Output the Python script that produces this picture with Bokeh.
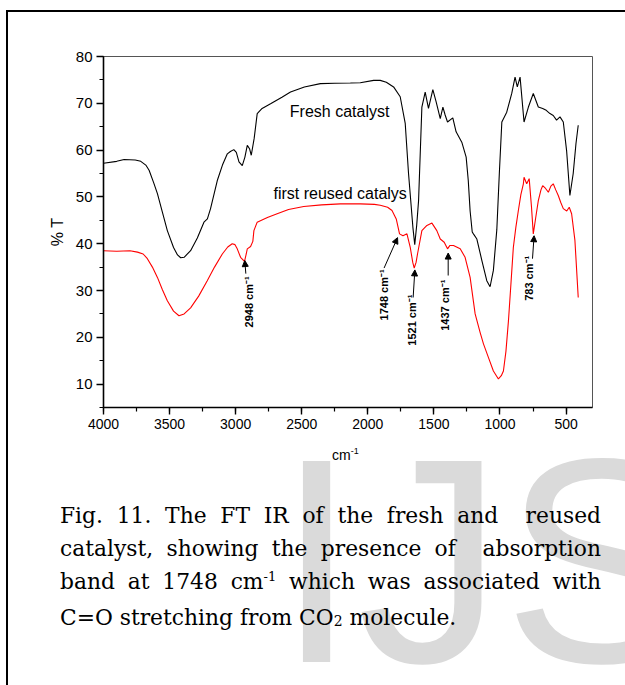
import math
from bokeh.plotting import figure
from bokeh.layouts import column
from bokeh.models import (Range1d, SingleIntervalTicker, Label, Arrow, NormalHead,
                          InlineStyleSheet, Div)
from bokeh.embed import file_html
from bokeh.resources import INLINE

# ---------------- data ----------------
fresh_wn = [4000, 3900, 3844, 3760, 3718, 3680, 3655, 3620, 3592, 3555, 3517, 3470, 3440, 3416,
            3390, 3341, 3290, 3240, 3214, 3190, 3139, 3100, 3063, 3040, 3014, 2995, 2975, 2950,
            2930, 2912, 2895, 2882, 2860, 2837, 2800, 2736, 2650, 2585, 2480, 2359, 2250, 2132,
            2057, 1956, 1906, 1860, 1805, 1755, 1717, 1692, 1659, 1645, 1630, 1616, 1591, 1566,
            1541, 1508, 1483, 1452, 1432, 1415, 1397, 1357, 1332, 1289, 1256, 1240, 1226, 1210,
            1201, 1175, 1137, 1100, 1075, 1050, 1024, 1005, 986, 949, 911, 886, 869, 848, 818,
            785, 748, 710, 677, 650, 622, 597, 572, 546, 521, 496, 471, 446, 425, 408]
fresh_t = [57.2, 57.6, 58.0, 57.9, 57.6, 56.8, 55.7, 53.0, 50.7, 46.8, 42.8, 39.2, 37.6, 37.0,
           37.1, 38.5, 41.2, 44.6, 45.3, 47.5, 53.5, 56.8, 59.2, 59.7, 60.1, 59.5, 57.5, 56.7,
           58.5, 61.0, 60.3, 58.9, 62.5, 67.8, 68.9, 69.9, 71.3, 72.4, 73.5, 74.2, 74.3, 74.35,
           74.4, 74.9, 74.9, 74.5, 73.5, 71.4, 65.7, 55.0, 43.5, 39.8, 44.0, 49.2, 69.2, 72.4,
           68.9, 72.9, 70.3, 66.7, 69.2, 67.5, 66.0, 66.9, 63.9, 61.7, 58.5, 53.5, 47.0, 42.5,
           42.1, 41.0, 36.4, 32.1, 30.8, 34.3, 43.0, 55.0, 66.0, 68.1, 72.1, 75.6, 73.5, 75.6, 66.0,
           69.2, 72.1, 69.2, 68.9, 68.5, 67.8, 67.4, 66.4, 67.1, 66.0, 59.9, 50.3, 55.0, 61.4, 65.3]

reused_wn = [4000, 3900, 3800, 3743, 3700, 3668, 3630, 3592, 3555, 3517, 3470, 3429, 3390, 3341,
             3280, 3215, 3160, 3101, 3060, 3026, 3005, 2988, 2963, 2933, 2920, 2912, 2887, 2870,
             2862, 2837, 2760, 2686, 2600, 2485, 2350, 2208, 2057, 1950, 1906, 1850, 1817, 1785,
             1760, 1734, 1704, 1679, 1660, 1649, 1635, 1624, 1591, 1553, 1515, 1478, 1452, 1422,
             1397, 1380, 1352, 1301, 1264, 1226, 1188, 1150, 1125, 1085, 1050, 1012, 990, 974,
             955, 936, 917, 899, 880, 861, 842, 823, 818, 798, 779, 762, 748, 730, 710, 690, 677,
             655, 634, 615, 597, 578, 559, 540, 521, 495, 476, 458, 433, 408]
reused_t = [38.5, 38.4, 38.5, 38.2, 37.8, 36.8, 35.0, 32.8, 30.2, 27.8, 25.6, 24.6, 25.0, 26.3,
            28.8, 32.1, 35.0, 37.8, 39.3, 40.0, 39.8, 38.9, 37.1, 36.2, 37.8, 38.9, 39.4, 40.5,
            42.8, 44.6, 45.6, 46.4, 47.3, 47.95, 48.3, 48.5, 48.5, 48.4, 48.2, 47.8, 47.1, 45.3,
            42.1, 41.7, 42.1, 39.2, 36.0, 34.8, 36.0, 37.8, 42.8, 43.9, 44.4, 42.8, 41.0, 40.3,
            38.9, 39.6, 39.6, 38.9, 37.1, 32.8, 25.0, 21.0, 18.6, 15.5, 12.8, 11.1, 11.8, 12.8,
            17.0, 23.5, 31.5, 39.2, 43.5, 47.1, 50.5, 52.8, 54.2, 52.8, 53.9, 48.0, 42.1, 45.5,
            49.2, 51.5, 52.4, 51.8, 51.0, 52.3, 52.8, 51.5, 50.3, 48.8, 47.5, 47.0, 47.8, 46.4,
            40.7, 28.5]

series_names = ["Fresh catalyst", "first reused catalys"]
peak_labels = ["2948 cm\u207b\u00b9", "1748 cm\u207b\u00b9", "1521 cm\u207b\u00b9",
               "1437 cm\u207b\u00b9", "783 cm\u207b\u00b9"]
x_title = ("cm", "-1")
y_title = "% T"
x_ticks_interval = 500
y_ticks_interval = 10

caption_lines = [
    "Fig. 11. The FT IR of the fresh and&nbsp; reused",
    "catalyst, showing the presence of&nbsp; absorption",
    "band at 1748 cm<span class='sup'>-1</span> which was associated with",
    "C=O stretching from CO<span class='sub'>2</span> molecule.",
]
watermark = "IJS"

# ---------------- layout / style constants ----------------
W, H = 625, 685
H1 = 445                               # height of the chart figure
FL, FR, FT, FB = 103, 592, 56, 407     # chart frame edges in page pixels

peak_tips = [(2931, 36.4), (1775, 41.3), (1644, 34.4), (1392, 38.0), (742, 41.7)]
peak_tails = [(2923, 33.6), (1877, 34.8), (1657, 28.5), (1392, 33.2), (754, 36.8)]
peak_anchor = [(2900, 22.1), (1879, 23.6), (1667, 18.2), (1417, 21.4), (782, 27.8)]

p = figure(width=W, height=H1, output_backend="svg", toolbar_location=None, title=None,
           x_range=Range1d(4000, 300), y_range=Range1d(5, 80),
           min_border_left=FL, min_border_right=W - FR, min_border_top=FT,
           min_border_bottom=H1 - FB,
           background_fill_color="white", border_fill_color="white")
p.xgrid.visible = False
p.ygrid.visible = False
p.outline_line_color = "#555555"
p.outline_line_width = 1

p.line(fresh_wn, fresh_t, line_color="black", line_width=1.1)
p.line(reused_wn, reused_t, line_color="#ff0000", line_width=1.1)

for ax in (p.xaxis[0], p.yaxis[0]):
    ax.axis_line_width = 1.6
    ax.major_tick_line_width = 1.4
    ax.minor_tick_line_width = 1.2
    ax.major_tick_in = 0
    ax.minor_tick_in = 0
    ax.major_tick_out = 7
    ax.minor_tick_out = 4
    ax.major_label_text_font = "Liberation Sans"
    ax.major_label_text_color = "black"
    ax.axis_label_text_font = "Liberation Sans"
    ax.axis_label_text_font_style = "normal"
    ax.axis_label_text_color = "black"
    ax.major_label_standoff = 4

p.xaxis.ticker = SingleIntervalTicker(interval=x_ticks_interval, num_minor_ticks=2)
p.yaxis.ticker = SingleIntervalTicker(interval=y_ticks_interval, num_minor_ticks=2)
p.xaxis.major_label_text_font_size = "14px"
p.yaxis.major_label_text_font_size = "15px"
p.yaxis.axis_label = y_title
p.yaxis.axis_label_text_font_size = "16px"
p.yaxis.axis_label_standoff = 7

p.add_layout(Label(x=2590, y=68.35, text=series_names[0], text_font="Liberation Sans",
                   text_font_size="16px", text_color="black", text_baseline="alphabetic"))
p.add_layout(Label(x=2714, y=50.67, text=series_names[1], text_font="Liberation Sans",
                   text_font_size="16px", text_color="black", text_baseline="alphabetic"))

for (tx, ty), (sx, sy), (lx, ly), lab in zip(peak_tips, peak_tails, peak_anchor, peak_labels):
    p.add_layout(Arrow(x_start=sx, y_start=sy, x_end=tx, y_end=ty, line_width=1,
                       line_color="black",
                       end=NormalHead(size=6, fill_color="black", line_color="black")))
    p.add_layout(Label(x=lx, y=ly, text=lab, angle=math.pi / 2, text_align="left",
                       text_baseline="middle", text_font="Liberation Sans",
                       text_font_size="11px", text_font_style="bold", text_color="black"))

# ---------------- lower part: x title, caption and watermark as HTML ----------------
H2 = H - H1
CAP_L, CAP_W, CAP_TOP = 60, 541, 499 - H1
lines_html = "".join(
    f"<div class='{'j' if i < 3 else 'l'}'>{ln}</div>" for i, ln in enumerate(caption_lines))
html = f"""
<style>
.box {{ position: relative; width: {W}px; height: {H2}px; overflow: hidden; background: white; }}
.wm {{ position: absolute; left: 276px; top: {415 - H1}px; font-family: 'Liberation Sans';
       font-size: 292px; line-height: 292px; color: #dadada; white-space: nowrap; }}
.xt {{ position: absolute; left: 332px; top: {448 - H1}px; font-family: 'Liberation Sans';
       font-size: 14px; line-height: 14px; color: black; white-space: nowrap; }}
.xt span {{ position: relative; top: -6px; font-size: 9px; }}
.cap {{ position: absolute; left: {CAP_L}px; top: {CAP_TOP}px; width: {CAP_W}px;
        font-family: 'DejaVu Serif'; font-size: 21.8px; line-height: 33px; color: black; }}
.cap .j {{ text-align: justify; text-align-last: justify; white-space: nowrap; }}
.cap .l {{ text-align: left; white-space: nowrap; }}
.sup {{ position: relative; top: -8px; font-size: 13px; }}
.sub {{ position: relative; top: 1px; font-size: 14px; }}
</style>
<div class="box">
  <div class="wm">{watermark}</div>
  <div class="xt">{x_title[0]}<span>{x_title[1]}</span></div>
  <div class="cap">{lines_html}</div>
</div>
"""
caption = Div(text=html, width=W, height=H2, margin=0, styles={"overflow": "hidden"})

frame_css = InlineStyleSheet(css="""
:host { position: relative; }
:host::after { content: ""; position: absolute; left: 6px; top: 10px; right: 0px; bottom: 0px;
  border-left: 2px solid black; border-top: 2px solid black; pointer-events: none; }
""")
layout = column(p, caption, spacing=0, stylesheets=[frame_css])

open("out.html", "w").write(file_html(layout, INLINE))
